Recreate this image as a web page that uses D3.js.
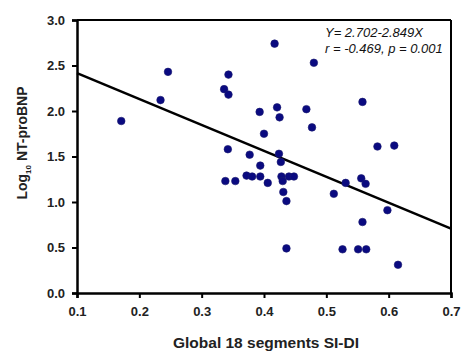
<!DOCTYPE html>
<html><head><meta charset="utf-8">
<script src="https://cdn.jsdelivr.net/npm/d3@7"></script>
<style>body{margin:0;background:#fff}svg{display:block}</style>
</head><body>
<script>
const xValues = [0.171,0.234,0.246,0.343,0.336,0.343,0.342,0.417,0.480,0.393,0.421,0.425,0.468,0.477,0.400,0.377,0.424,0.427,0.394,0.338,0.354,0.372,0.381,0.394,0.406,0.428,0.430,0.440,0.448,0.431,0.436,0.436,0.558,0.582,0.609,0.531,0.556,0.563,0.512,0.598,0.558,0.526,0.551,0.564,0.615];
const yValues = [1.89,2.12,2.43,2.40,2.24,2.18,1.58,2.74,2.53,1.99,2.04,1.93,2.02,1.82,1.75,1.52,1.53,1.44,1.40,1.23,1.23,1.29,1.28,1.28,1.21,1.28,1.23,1.28,1.28,1.11,1.01,0.49,2.10,1.61,1.62,1.21,1.26,1.20,1.09,0.91,0.78,0.48,0.48,0.48,0.31];
const xTicks = [0.1,0.2,0.3,0.4,0.5,0.6,0.7];
const yTicks = [0.0,0.5,1.0,1.5,2.0,2.5,3.0];
const fitIntercept = 2.702, fitSlope = -2.849;
const annotation = ["Y= 2.702-2.849X", "r = -0.469, p = 0.001"];

const W=462,H=352, L=77,R=451,T=20,B=293;
const svg=d3.select("body").append("svg").attr("width",W).attr("height",H)
  .style("font-family","'Liberation Sans',Arial,sans-serif");
const x=d3.scaleLinear().domain([0.1,0.7]).range([L,R]);
const y=d3.scaleLinear().domain([0,3]).range([B,T]);

// frame top and right
svg.append("line").attr("x1",L).attr("x2",R).attr("y1",T).attr("y2",T).attr("stroke","#000").attr("stroke-width",2);
svg.append("line").attr("x1",R).attr("x2",R).attr("y1",T).attr("y2",B).attr("stroke","#000").attr("stroke-width",2);

const xa=svg.append("g").attr("transform",`translate(0,${B})`)
  .call(d3.axisBottom(x).tickValues(xTicks).tickFormat(d3.format(".1f")).tickSize(5).tickPadding(9));
const ya=svg.append("g").attr("transform",`translate(${L},0)`)
  .call(d3.axisLeft(y).tickValues(yTicks).tickFormat(d3.format(".1f")).tickSize(5).tickPadding(7));
[xa,ya].forEach(g=>{
  g.select(".domain").attr("stroke","#000").attr("stroke-width",2.5);
  g.selectAll(".tick line").attr("stroke","#000").attr("stroke-width",2);
  g.selectAll(".tick text").attr("fill","#222").style("font-size","13px").style("font-weight","bold")
   .style("font-family","'Liberation Sans',Arial,sans-serif");
});

// regression line
svg.append("line")
  .attr("x1",x(0.1)).attr("y1",y(fitIntercept+fitSlope*0.1))
  .attr("x2",x(0.7)).attr("y2",y(fitIntercept+fitSlope*0.7))
  .attr("stroke","#000").attr("stroke-width",2.5);

// points
svg.append("g").selectAll("circle").data(xValues.map((v,i)=>[v,yValues[i]])).join("circle")
  .attr("cx",d=>x(d[0])).attr("cy",d=>y(d[1])).attr("r",3.8)
  .attr("fill","#0a0a80").attr("stroke","#1a1a6e").attr("stroke-width",0.6);

// annotation
svg.append("g").selectAll("text").data(annotation).join("text")
  .attr("x",325).attr("y",(d,i)=>37+i*16).text(d=>d)
  .style("font-size","13px").style("font-style","italic").attr("fill","#111");

// axis labels
svg.append("text").attr("x",266).attr("y",348).attr("text-anchor","middle")
  .style("font-size","15.5px").style("font-weight","bold").attr("fill","#222").text("Global 18 segments SI-DI");
const yl=svg.append("text").attr("transform","translate(27,143) rotate(-90)").attr("text-anchor","middle")
  .style("font-size","14px").style("font-weight","bold").attr("fill","#222");
yl.append("tspan").text("Log");
yl.append("tspan").text("10").style("font-size","8px").attr("dy",4);
yl.append("tspan").text(" NT-proBNP").attr("dy",-4);
</script>
</body></html>
